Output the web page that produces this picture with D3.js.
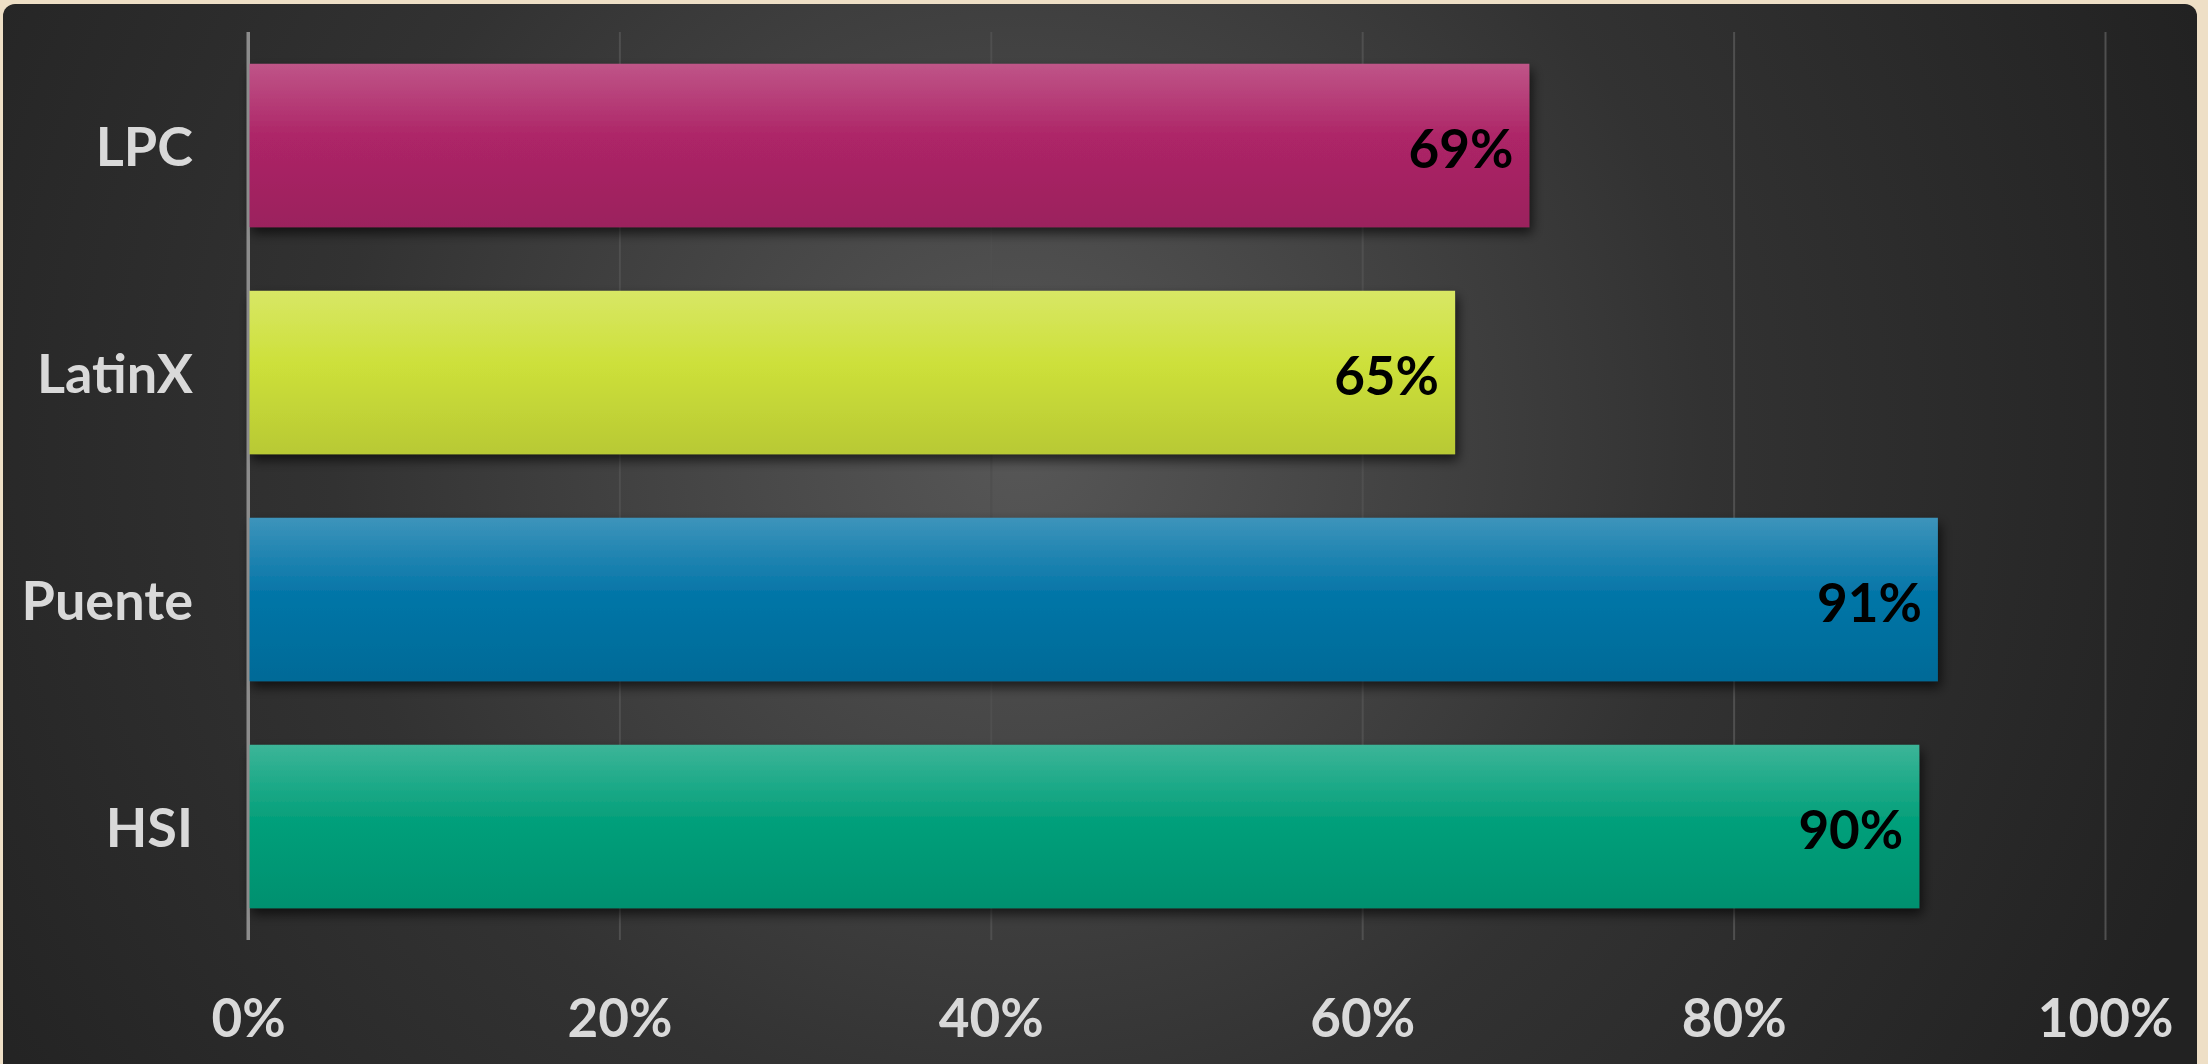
<!DOCTYPE html>
<html lang="en">
  <head>
    <meta charset="UTF-8" />
    <title>Chart</title>
    <style>
      body {
        margin: 0;
        background: #eedfc6;
      }
      text {
        font-family: Lato, "Open Sans", sans-serif;
        font-weight: 700;
      }
    </style>
  </head>
  <body>
    <svg id="chart"></svg>
    <script src="https://cdnjs.cloudflare.com/ajax/libs/d3/7.4.4/d3.min.js"></script>
    <script>
      const categories = ["LPC", "LatinX", "Puente", "HSI"];
      const values = [69, 65, 91, 90];
      const tickValues = [0, 20, 40, 60, 80, 100];
      const barColors = ["#ad2567", "#cde03a", "#0676a8", "#05a07b"];

      const W = 2208,
        H = 1064;
      const plotLeft = 248,
        plotRight = 2105,
        plotTop = 32,
        plotBottom = 940;

      const svg = d3.select("#chart").attr("width", W).attr("height", H);
      const defs = svg.append("defs");

      // panel background
      const bg = defs
        .append("radialGradient")
        .attr("id", "bg")
        .attr("gradientUnits", "userSpaceOnUse")
        .attr("cx", 1020)
        .attr("cy", 440)
        .attr("r", 1250);
      bg.append("stop").attr("offset", 0).attr("stop-color", "#575757");
      bg.append("stop").attr("offset", 0.55).attr("stop-color", "#323232");
      bg.append("stop").attr("offset", 1).attr("stop-color", "#222222");

      svg
        .append("rect")
        .attr("x", 3)
        .attr("y", 4)
        .attr("width", 2194)
        .attr("height", H + 20)
        .attr("rx", 12)
        .attr("fill", "url(#bg)");

      const shadow = defs.append("filter").attr("id", "shadow").attr("x", -0.1).attr("y", -0.2).attr("width", 1.2).attr("height", 1.5);
      shadow
        .append("feDropShadow")
        .attr("dx", 3)
        .attr("dy", 6)
        .attr("stdDeviation", 6)
        .attr("flood-color", "#000")
        .attr("flood-opacity", 0.65);

      barColors.forEach((c, i) => {
        const g = defs
          .append("linearGradient")
          .attr("id", "bar" + i)
          .attr("x1", 0)
          .attr("y1", 0)
          .attr("x2", 0)
          .attr("y2", 1);
        g.append("stop").attr("offset", 0).attr("stop-color", d3.interpolateRgb(c, "#fff")(0.22));
        g.append("stop").attr("offset", 0.45).attr("stop-color", c);
        g.append("stop").attr("offset", 1).attr("stop-color", d3.color(c).darker(0.3));
      });

      const x = d3.scaleLinear().domain([0, 100]).range([plotLeft, plotRight]);
      const y = d3
        .scaleBand()
        .domain(categories)
        .range([plotTop, plotBottom])
        .paddingInner(0.28)
        .paddingOuter(0.14);

      // x axis + gridlines
      const xAxis = svg
        .append("g")
        .attr("transform", `translate(0,${plotBottom})`)
        .call(
          d3
            .axisBottom(x)
            .tickValues(tickValues)
            .tickFormat((d) => d + "%")
            .tickSizeInner(-(plotBottom - plotTop))
            .tickSizeOuter(0)
        );
      xAxis.select(".domain").remove();
      xAxis
        .selectAll(".tick line")
        .attr("stroke", (d) => (d === 0 ? "#8c8c8c" : "#4f4f4f"))
        .attr("stroke-width", (d) => (d === 0 ? 3 : 2));
      xAxis
        .selectAll(".tick text")
        .attr("y", 97)
        .attr("dy", 0)
        .attr("fill", "#d9d9d9")
        .attr("font-size", 53)
        .style("font-family", "Lato, sans-serif");

      // bars
      const bars = svg
        .append("g")
        .selectAll("g")
        .data(categories)
        .join("g");

      bars
        .append("rect")
        .attr("x", x(0))
        .attr("y", (d) => y(d))
        .attr("width", (d, i) => x(values[i]) - x(0))
        .attr("height", y.bandwidth())
        .attr("fill", (d, i) => `url(#bar${i})`)
        .attr("filter", "url(#shadow)");

      bars
        .append("text")
        .attr("x", (d, i) => x(values[i]) - 16)
        .attr("y", (d) => y(d) + y.bandwidth() / 2 + 22)
        .attr("text-anchor", "end")
        .attr("fill", "#000")
        .attr("font-size", 53)
        .text((d, i) => values[i] + "%");

      // axis line at zero drawn above the bars
      svg
        .append("line")
        .attr("x1", x(0))
        .attr("x2", x(0))
        .attr("y1", plotTop)
        .attr("y2", plotBottom)
        .attr("stroke", "#8c8c8c")
        .attr("stroke-width", 3);

      // category labels
      svg
        .append("g")
        .selectAll("text")
        .data(categories)
        .join("text")
        .attr("x", 193)
        .attr("y", (d) => y(d) + y.bandwidth() / 2 + 20)
        .attr("text-anchor", "end")
        .attr("fill", "#d9d9d9")
        .attr("font-size", 54)
        .text((d) => d);
    </script>
  </body>
</html>
